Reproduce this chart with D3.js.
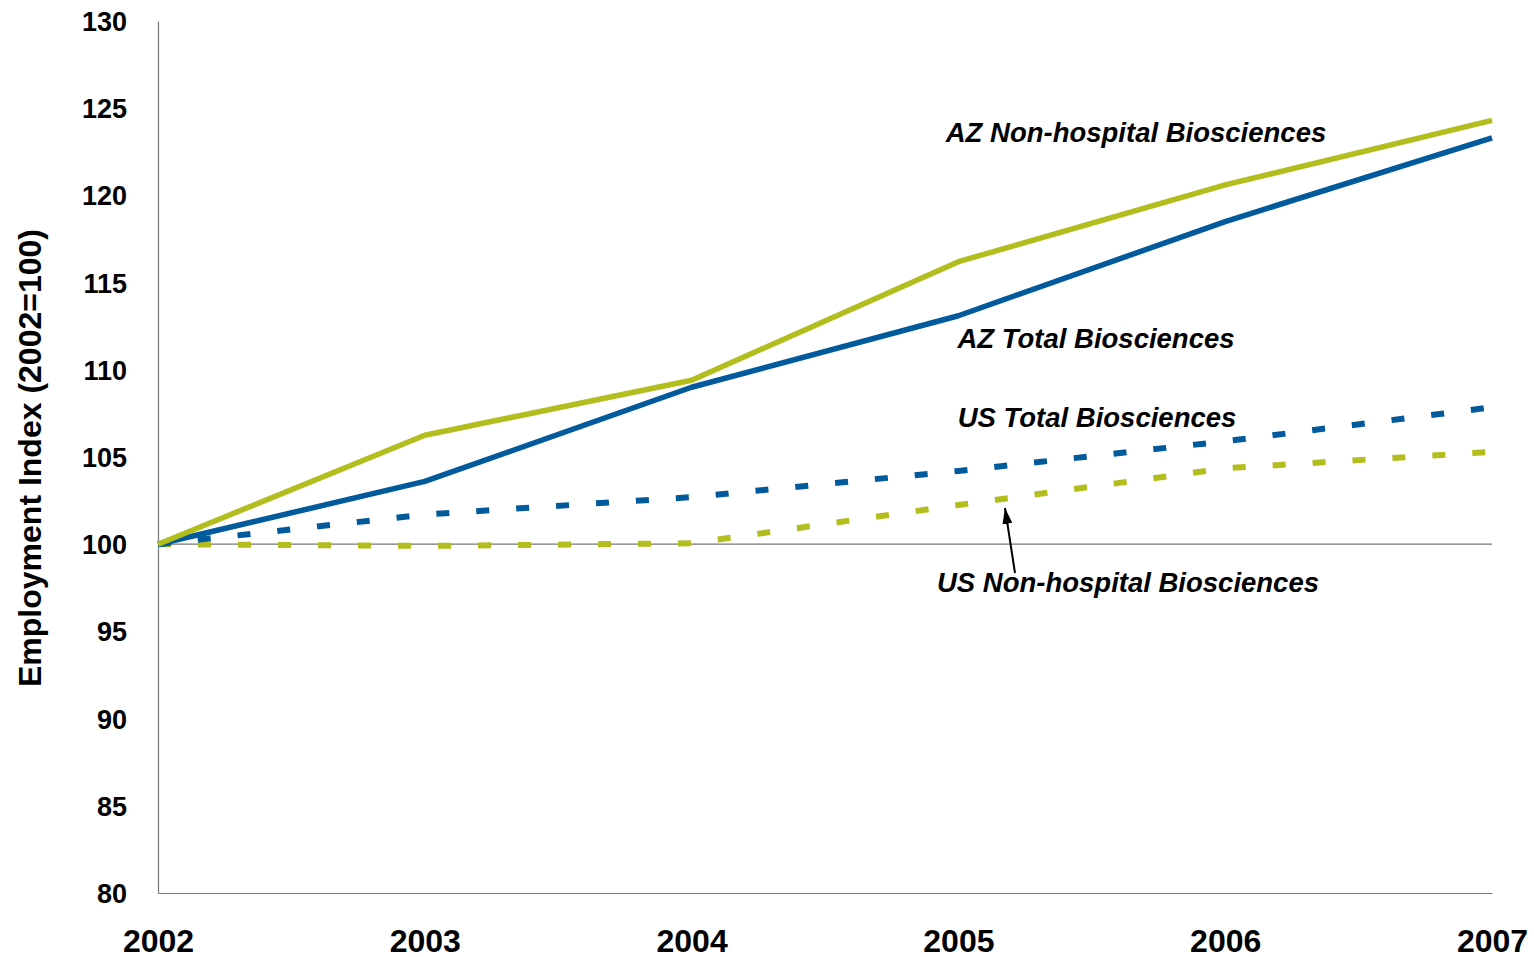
<!DOCTYPE html>
<html>
<head>
<meta charset="utf-8">
<script src="https://cdn.jsdelivr.net/npm/d3@7"></script>
<style>
  html, body { margin: 0; padding: 0; background: #fff; }
  svg text { font-family: "Liberation Sans", Arial, sans-serif; font-weight: bold; fill: #000; }
</style>
</head>
<body>
<svg id="chart" width="1534" height="957"></svg>
<script>
// Years on the x axis
const years = [2002, 2003, 2004, 2005, 2006, 2007];
// Employment index series (2002 = 100)
const azNonHospital = [100, 106.25, 109.4, 116.2, 120.6, 124.3];
const azTotal       = [100, 103.6, 109.0, 113.1, 118.5, 123.3];
const usTotal       = [100, 101.7, 102.7, 104.2, 105.9, 107.85];
const usNonHospital = [100, 99.9, 100.05, 102.25, 104.35, 105.3];
// Y axis ticks
const yTicks = [80, 85, 90, 95, 100, 105, 110, 115, 120, 125, 130];

const GREEN = "#B4BD1E";
const BLUE = "#005A9C";

const svg = d3.select("#chart");
const margin = { left: 158, right: 1492, top: 21, bottom: 893 };

const x = d3.scalePoint().domain(years).range([margin.left, margin.right]);
const y = d3.scaleLinear().domain([80, 130]).range([margin.bottom, margin.top]);

// Axes: plain lines, labels without tick marks
const yAxis = svg.append("g")
  .attr("transform", `translate(${margin.left},0)`)
  .call(d3.axisLeft(y).tickValues(yTicks).tickSize(0).tickPadding(31));
yAxis.select(".domain").attr("stroke", "#777").attr("stroke-width", 1.2);
yAxis.selectAll("text").style("font-size", "27px").attr("dy", "0.35em");

const xAxis = svg.append("g")
  .attr("transform", `translate(0,${margin.bottom})`)
  .call(d3.axisBottom(x).tickFormat(d3.format("d")).tickSize(0).tickPadding(36));
xAxis.select(".domain").attr("stroke", "#777").attr("stroke-width", 1.2);
xAxis.selectAll("text").style("font-size", "32px");

// Reference line at 100
svg.append("line")
  .attr("x1", margin.left).attr("x2", margin.right)
  .attr("y1", y(100)).attr("y2", y(100))
  .attr("stroke", "#777").attr("stroke-width", 1.2);

// Y axis title
svg.append("text")
  .attr("transform", `translate(41,${(margin.top + margin.bottom) / 2 + 1}) rotate(-90)`)
  .attr("text-anchor", "middle")
  .style("font-size", "32px")
  .text("Employment Index (2002=100)");

const line = d3.line().x((d, i) => x(years[i])).y(d => y(d));

const series = [
  { values: usNonHospital, color: GREEN, dash: "13,27" },
  { values: usTotal, color: BLUE, dash: "13,27" },
  { values: azTotal, color: BLUE, dash: null },
  { values: azNonHospital, color: GREEN, dash: null }
];

svg.append("g").selectAll("path")
  .data(series)
  .join("path")
  .attr("d", d => line(d.values))
  .attr("fill", "none")
  .attr("stroke", d => d.color)
  .attr("stroke-width", d => d.dash ? 6 : 5.5)
  .attr("stroke-dasharray", d => d.dash)
  .attr("stroke-linejoin", "round");

// Series labels
const labels = [
  { text: "AZ Non-hospital Biosciences", x: 1136, y: 142 },
  { text: "AZ Total Biosciences", x: 1096, y: 348 },
  { text: "US Total Biosciences", x: 1097, y: 427 },
  { text: "US Non-hospital Biosciences", x: 1128, y: 592 }
];
svg.append("g").selectAll("text")
  .data(labels)
  .join("text")
  .attr("x", d => d.x).attr("y", d => d.y)
  .attr("text-anchor", "middle")
  .style("font-size", "27.5px")
  .style("font-style", "italic")
  .text(d => d.text);

// Arrow pointing at the US Non-hospital line
svg.append("defs").append("marker")
  .attr("id", "arrowhead")
  .attr("viewBox", "0 0 16 10")
  .attr("refX", 16).attr("refY", 5)
  .attr("markerWidth", 16).attr("markerHeight", 10)
  .attr("markerUnits", "userSpaceOnUse")
  .attr("orient", "auto")
  .append("path")
  .attr("d", "M0,0 L16,5 L0,10 Z")
  .attr("fill", "#000");

svg.append("line")
  .attr("x1", 1015).attr("y1", 573)
  .attr("x2", 1005).attr("y2", 508)
  .attr("stroke", "#000").attr("stroke-width", 2)
  .attr("marker-end", "url(#arrowhead)");
</script>
</body>
</html>
